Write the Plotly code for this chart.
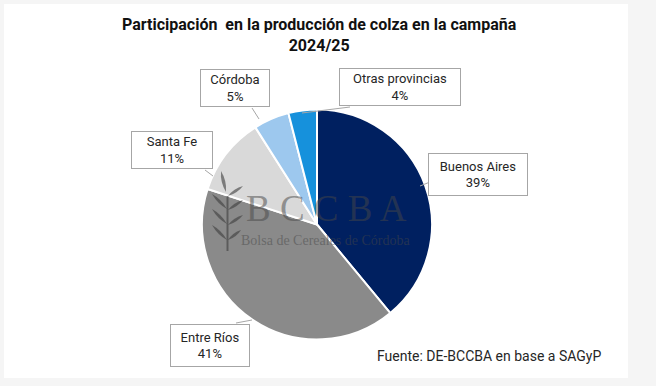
import plotly.graph_objects as go

labels = ["Buenos Aires", "Entre Ríos", "Santa Fe", "Córdoba", "Otras provincias"]
values = [39, 41, 11, 5, 4]
colors = ["#002060", "#8a8a8a", "#d9d9d9", "#9dc8ee", "#1691dc"]

W, H = 656, 386

def px(x):
    return x / W

def py(y):
    return 1 - y / H

fig = go.Figure()
fig.add_trace(go.Pie(
    labels=labels, values=values, sort=False, direction="clockwise", rotation=0,
    marker=dict(colors=colors, line=dict(color="white", width=2)),
    textinfo="none", hoverinfo="label+percent", showlegend=False,
    domain=dict(x=[px(317 - 115), px(317 + 115)], y=[py(224.5 + 115), py(224.5 - 115)]),
))

# label boxes: (label index, center x, center y, width, height)
boxes = [
    (0, 478, 174, 96, 45),
    (1, 210, 345, 76, 45),
    (2, 172, 150, 78, 40),
    (3, 235, 88, 66, 40),
    (4, 400, 87, 118, 40),
]
annots = []
for i, cx, cy, w, h in boxes:
    annots.append(dict(
        x=px(cx), y=py(cy), xref="paper", yref="paper", showarrow=False,
        text=f"{labels[i]}<br>{values[i]}%", align="center",
        font=dict(family="Roboto", size=13, color="#262626"),
        bgcolor="white", bordercolor="#a6a6a6", borderwidth=1,
        width=w, height=h - 6, xanchor="center", yanchor="middle",
    ))

annots.append(dict(
    x=px(319), y=py(35), xref="paper", yref="paper", showarrow=False,
    text="<b>Participación  en la producción de colza en la campaña<br>2024/25</b>",
    font=dict(family="Roboto", size=16, color="#111111"),
    xanchor="center", yanchor="middle",
))
annots.append(dict(
    x=px(603), y=py(356), xref="paper", yref="paper", showarrow=False,
    text="Fuente: DE-BCCBA en base a SAGyP",
    font=dict(family="Roboto", size=14, color="#262626"),
    xanchor="right", yanchor="middle",
))
# watermark
wm = "rgba(70,70,70,0.5)"
annots.append(dict(
    x=px(326), y=py(208), xref="paper", yref="paper", showarrow=False,
    text="B C C B A",
    font=dict(family="Liberation Serif", size=37, color=wm),
    xanchor="center", yanchor="middle",
))
annots.append(dict(
    x=px(326), y=py(240), xref="paper", yref="paper", showarrow=False,
    text="Bolsa de Cereales de Córdoba",
    font=dict(family="Liberation Serif", size=14, color=wm),
    xanchor="center", yanchor="middle",
))

def pt(x, y):
    return f"{px(x):.5f},{py(y):.5f}"

def leaf(x0, y0, x1, y1, bulge):
    mx, my = (x0 + x1) / 2, (y0 + y1) / 2
    dx, dy = x1 - x0, y1 - y0
    nx, ny = -dy, dx
    n = (nx * nx + ny * ny) ** 0.5
    nx, ny = nx / n * bulge, ny / n * bulge
    return (f"M {pt(x0, y0)} Q {pt(mx + nx, my + ny)} {pt(x1, y1)} "
            f"Q {pt(mx - nx, my - ny)} {pt(x0, y0)} Z")

leaf_style = dict(type="path", xref="paper", yref="paper",
                  fillcolor="rgba(60,60,60,0.6)", line=dict(width=0))
leaves = [
    (226, 192, 221, 171, 3.5),
    (228, 196, 243, 186, 3),
    (227, 209, 212, 194, 3),
    (228, 210, 243, 200, 3),
    (227, 224, 212, 209, 3),
    (228, 225, 243, 215, 3),
    (227, 240, 212, 225, 3),
    (228, 240, 241, 230, 3),
]

line = dict(color="#a6a6a6", width=1)
shapes = [
    dict(type="rect", xref="paper", yref="paper", x0=px(4), x1=px(628), y0=py(378), y1=py(4),
         fillcolor="white", line=dict(width=0), layer="below"),
    dict(type="line", xref="paper", yref="paper", x0=px(430), y0=py(182), x1=px(420), y1=py(186), line=line),
    dict(type="line", xref="paper", yref="paper", x0=px(236), y0=py(323), x1=px(252), y1=py(320), line=line),
    dict(type="line", xref="paper", yref="paper", x0=px(205), y0=py(170), x1=px(213), y1=py(176), line=line),
    dict(type="line", xref="paper", yref="paper", x0=px(252), y0=py(108), x1=px(259), y1=py(119), line=line),
    dict(type="line", xref="paper", yref="paper", x0=px(350), y0=py(107), x1=px(302), y1=py(113), line=line),
    dict(type="line", xref="paper", yref="paper", x0=px(227.5), y0=py(196), x1=px(227.5), y1=py(251),
         line=dict(color="rgba(60,60,60,0.6)", width=2)),
]
for x0, y0, x1, y1, b in leaves:
    shapes.append(dict(leaf_style, path=leaf(x0, y0, x1, y1, b)))

fig.update_layout(
    width=W, height=H, margin=dict(l=0, r=0, t=0, b=0),
    paper_bgcolor="#f5f5f5", plot_bgcolor="white",
    annotations=annots, shapes=shapes,
)
fig.write_html("out.html", config={"displayModeBar": False},
               post_script="document.body.style.margin='0';")
